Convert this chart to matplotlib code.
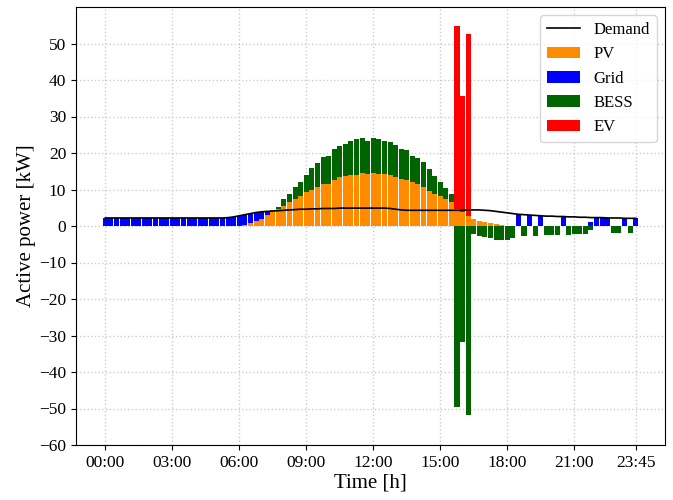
import matplotlib
matplotlib.use('Agg')
import numpy as np
import matplotlib.pyplot as plt

plt.rcParams['font.family'] = ['Liberation Serif', 'DejaVu Serif']

# ========== data: 96 steps of 15 min ==========
tick_pos = [0, 12, 24, 36, 48, 60, 72, 84, 95]
tick_lab = ["00:00", "03:00", "06:00", "09:00", "12:00", "15:00", "18:00", "21:00", "23:45"]

demand = [2.2] * 22 + [
    2.3, 2.5, 2.8, 3.1, 3.4, 3.7, 3.9, 4.0, 4.1, 4.2,      # 22-31
    4.3, 4.4, 4.5, 4.6, 4.6, 4.7, 4.7, 4.8, 4.8, 4.8,      # 32-41
    4.9, 4.9, 4.9, 4.9, 4.9, 4.9, 4.9, 4.9, 4.9, 4.8,      # 42-51
    4.6, 4.4, 4.3, 4.3, 4.3, 4.3, 4.3, 4.3, 4.3, 4.3,      # 52-61
    4.3, 4.3, 4.3, 4.4, 4.4, 4.4, 4.3, 4.2, 4.0, 3.8,      # 62-71
    3.6, 3.4, 3.2, 3.1, 3.0, 2.9, 2.8, 2.7, 2.7, 2.6,      # 72-81
    2.6, 2.5, 2.5, 2.4, 2.4, 2.3, 2.3, 2.3, 2.2, 2.2,      # 82-91
    2.2, 2.1, 2.1, 2.1]                                    # 92-95

pv = [0.0] * 25 + [
    0.35, 0.7, 1.25, 1.95, 2.9, 4.3, 4.6, 5.6, 6.5, 7.5,     # 25-34
    8.1, 9.2, 10.0, 10.7, 11.6, 11.6, 12.7, 13.3, 13.6, 13.9,  # 35-44
    13.9, 14.5, 14.2, 14.5, 14.2, 14.2, 13.9, 13.4, 12.8, 12.5,  # 45-54
    12.0, 11.4, 10.6, 9.7, 8.9, 8.1, 7.3, 6.5, 4.6, 3.8,     # 55-64
    2.7, 2.0, 1.5, 1.0, 0.7, 0.45, 0.2, 0.1] + [0.0] * 23    # 65-95

grid = [2.1] * 22 + [2.4, 2.5, 2.7, 2.55, 2.6, 2.4, 1.9, 1.1] + [0.0] * 44 + [
    3.4, 0, 3.0, 0, 2.7, 0, 0, 0, 2.5, 0,                    # 74-83
    0, 0, 0, 1.0, 2.2, 2.2, 2.2, 0, 0, 2.2,                  # 84-93
    0, 2.2]                                                  # 94-95

bess = [0.0] * 31 + [
    0.7, 1.7, 2.4, 3.3, 3.9, 4.9, 5.8, 6.5, 7.2, 7.5,        # 31-40
    8.3, 8.6, 9.0, 9.3, 9.8, 9.5, 9.2, 9.5, 9.5, 9.2,        # 41-50
    9.0, 8.7, 8.2, 8.2, 7.3, 7.1, 6.8, 5.8, 4.9, 3.9,        # 51-60
    3.0, 2.2, -49.5, -31.8, -51.8, -2.2, -2.8, -3.0, -3.4, -3.7,  # 61-70
    -3.7, -3.7, -3.4, 0, -2.8, 0, -2.8, 0, -2.5, -2.5,       # 71-80
    -2.5, 0, -2.5, -2.2, -2.2, -2.2, -1.1, 0, 0, 0,          # 81-90
    -2.0, -2.0, 0, -2.0, 0]                                  # 91-95

ev = [0.0] * 63 + [50.2, 31.7, 50.0] + [0.0] * 30

series = [("PV", pv, "darkorange"), ("Grid", grid, "blue"),
          ("BESS", bess, "darkgreen"), ("EV", ev, "red")]

# ========== plot ==========
x = np.arange(len(demand))
fig, ax = plt.subplots(figsize=(6.73, 5.0), dpi=100)
fig.subplots_adjust(left=0.113, right=0.988, top=0.986, bottom=0.11)

ax.plot(x, demand, color="black", linewidth=1.2, label="Demand", zorder=3)

pos_bottom = np.zeros(len(x))
neg_bottom = np.zeros(len(x))
for name, vals, col in series:
    v = np.array(vals, dtype=float)
    bottom = np.where(v >= 0, pos_bottom, neg_bottom)
    ax.bar(x, v, width=0.9, bottom=bottom, color=col, label=name, zorder=2)
    pos_bottom = pos_bottom + np.where(v > 0, v, 0)
    neg_bottom = neg_bottom + np.where(v < 0, v, 0)

ax.set_ylim(-60, 60)
ax.set_yticks(np.arange(-60, 51, 10))
ax.set_xticks(tick_pos)
ax.set_xticklabels(tick_lab)
ax.tick_params(labelsize=12.5)
ax.set_xlabel("Time [h]", fontsize=15, labelpad=2)
ax.set_ylabel("Active power [kW]", fontsize=15, labelpad=2)
ax.grid(True, linestyle=":", color="#cccccc", linewidth=1.0, zorder=0)
ax.set_axisbelow(True)

ax.legend(loc="upper right", fontsize=12)

plt.savefig("out.png", dpi=100)
plt.close()
